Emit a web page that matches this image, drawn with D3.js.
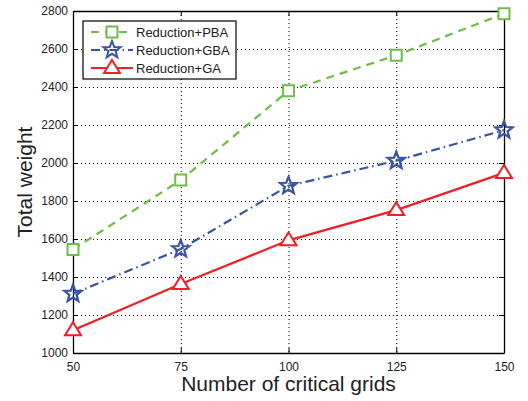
<!DOCTYPE html>
<html>
<head>
<meta charset="utf-8">
<script src="https://cdn.jsdelivr.net/npm/d3@7"></script>
<style>
  body { margin: 0; background: #fff; }
  text { font-family: "Liberation Sans", Arial, sans-serif; fill: #222; }
  .grid line { stroke: #999; stroke-dasharray: 1,3; }
  .grid .domain { display: none; }
</style>
</head>
<body>
<div id="chart"></div>
<script>
// data
var grids = [50, 75, 100, 125, 150]
var pba = [1545, 1910, 2380, 2567, 2786]
var gba = [1312, 1547, 1880, 2012, 2173]
var ga = [1120, 1363, 1593, 1752, 1948]
var yTicks = [1000, 1200, 1400, 1600, 1800, 2000, 2200, 2400, 2600, 2800]
var seriesNames = ['Reduction+PBA', 'Reduction+GBA', 'Reduction+GA']

var margin = { top: 11, right: 24, bottom: 48, left: 73 },
    width = 528 - margin.left - margin.right,
    height = 401 - margin.top - margin.bottom;

var svg = d3.select("#chart")
    .append("svg")
    .attr("width", 528)
    .attr("height", 401)
    .append("g")
    .attr("transform", "translate(" + margin.left + "," + margin.top + ")");

var x = d3.scaleLinear().domain([50, 150]).range([0, width]);
var y = d3.scaleLinear().domain([1000, 2800]).range([height, 0]);

// grid
svg.append('g').attr('class', 'grid')
    .call(d3.axisTop(x).tickValues(grids).tickSize(-height).tickFormat(''));
svg.append('g').attr('class', 'grid')
    .call(d3.axisLeft(y).tickValues(yTicks).tickSize(-width).tickFormat(''));

// axes with inward ticks
svg.append("g")
    .attr("transform", "translate(0," + height + ")")
    .call(d3.axisBottom(x).tickValues(grids).tickFormat(d3.format('d')).tickSizeInner(-5).tickSizeOuter(0).tickPadding(9));
svg.append("g")
    .call(d3.axisLeft(y).tickValues(yTicks).tickFormat(d3.format('d')).tickSizeInner(-5).tickSizeOuter(0).tickPadding(5));
svg.append("g")
    .call(d3.axisTop(x).tickValues(grids).tickSizeInner(-5).tickSizeOuter(0).tickFormat(''));
svg.append("g")
    .attr("transform", "translate(" + width + ",0)")
    .call(d3.axisRight(y).tickValues(yTicks).tickSizeInner(-5).tickSizeOuter(0).tickFormat(''));
svg.selectAll('.domain').style('stroke', '#000').style('stroke-width', 1.3);
svg.selectAll('.tick line').style('stroke', '#000');
svg.selectAll('.tick text').style('font-size', '12px').style('font-family', '"Liberation Sans", Arial, sans-serif').style('fill', '#222');

svg.append("text")
    .attr("text-anchor", "middle")
    .attr("x", width / 2)
    .attr("y", height + 38)
    .style("font-size", "21px")
    .text("Number of critical grids");

svg.append("text")
    .attr("text-anchor", "middle")
    .attr("transform", "translate(" + (-41) + "," + (height / 2) + ") rotate(-90)")
    .style("font-size", "21px")
    .text("Total weight");

var series = [
    { name: seriesNames[0], values: pba, color: '#6cbd45', dash: '8,6', marker: 'square' },
    { name: seriesNames[1], values: gba, color: '#3a53a4', dash: '9,4,1.5,4', marker: 'star' },
    { name: seriesNames[2], values: ga, color: '#ee1f25', dash: null, marker: 'triangle' }
]

function markerPath(type) {
    if (type == 'square') return d3.symbol().type(d3.symbolSquare).size(120)()
    if (type == 'star') {
        // five point star
        var pts = []
        for (var i = 0; i < 10; i++) {
            var r = i % 2 == 0 ? 9 : 3.8
            var a = -Math.PI / 2 + i * Math.PI / 5
            pts.push([r * Math.cos(a), r * Math.sin(a)])
        }
        return 'M' + pts.map(p => p.join(',')).join('L') + 'Z'
    }
    return 'M0,-8L8,5L-8,5Z'
}

var line = d3.line().x((d, i) => x(grids[i])).y(d => y(d));

series.forEach(function (s) {
    svg.append('path')
        .attr('d', line(s.values))
        .attr('fill', 'none')
        .attr('stroke', s.color)
        .attr('stroke-width', 2.2)
        .attr('stroke-dasharray', s.dash);
    svg.selectAll(null)
        .data(s.values)
        .enter()
        .append('path')
        .attr('d', markerPath(s.marker))
        .attr('transform', (d, i) => 'translate(' + x(grids[i]) + ',' + y(d) + ')')
        .attr('fill', s.marker == 'star' ? 'none' : '#fff')
        .attr('stroke', s.color)
        .attr('stroke-width', s.marker == 'star' ? 2.2 : 2);
});

// legend
var legend = svg.append('g').attr('transform', 'translate(10,10)');
legend.append('rect')
    .attr('width', 153).attr('height', 58)
    .attr('fill', '#fff').attr('stroke', '#000').attr('stroke-width', 1.2);
series.forEach(function (s, i) {
    var ly = 11 + i * 18;
    legend.append('line')
        .attr('x1', 8).attr('x2', 50).attr('y1', ly).attr('y2', ly)
        .attr('stroke', s.color).attr('stroke-width', 2.2)
        .attr('stroke-dasharray', s.dash);
    legend.append('path')
        .attr('d', markerPath(s.marker))
        .attr('transform', 'translate(29,' + ly + ')')
        .attr('fill', s.marker == 'star' ? 'none' : '#fff')
        .attr('stroke', s.color).attr('stroke-width', 2);
    legend.append('text')
        .attr('x', 53).attr('y', ly + 4.5)
        .style('font-size', '13px')
        .text(s.name);
});
</script>
</body>
</html>
